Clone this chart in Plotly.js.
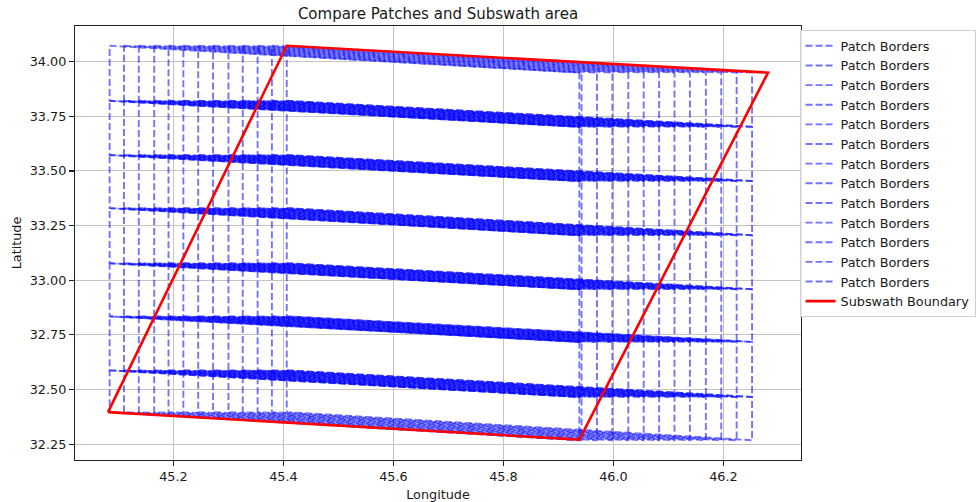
<!DOCTYPE html>
<html>
<head>
<meta charset="utf-8">
<script src="https://cdn.plot.ly/plotly-3.0.1.min.js"></script>
<style>html,body{margin:0;padding:0;background:#fff;}#chart{width:976px;height:502px;}</style>
</head>
<body>
<div id="chart"></div>
<script>
// Patch columns: left and right longitude of each of the 13 patch strips
const patchLeftLon  = [45.084, 45.110, 45.137, 45.165, 45.191, 45.218, 45.245, 45.272, 45.300, 45.326, 45.353, 45.379, 45.406];
const patchRightLon = [45.938, 45.942, 45.970, 45.998, 46.027, 46.055, 46.083, 46.111, 46.139, 46.168, 46.196, 46.224, 46.252];
// Row border latitudes at the left end and at the right end of each strip
const rowLatLeft  = [34.073, 33.821, 33.573, 33.330, 33.078, 32.835, 32.588, 32.397];
const rowLatRight = [33.950, 33.702, 33.454, 33.206, 32.959, 32.718, 32.466, 32.268];
// Subswath boundary polygon
const subswathLon = [45.081, 45.406, 46.281, 45.938, 45.081];
const subswathLat = [32.397, 34.073, 33.950, 32.271, 32.397];
// Tick values
const xTicks = [45.2, 45.4, 45.6, 45.8, 46.0, 46.2];
const yTicks = [32.25, 32.50, 32.75, 33.00, 33.25, 33.50, 33.75, 34.00];

const traces = [];
for (let i = 0; i < patchLeftLon.length; i++) {
  const xs = [], ys = [];
  const L = patchLeftLon[i], R = patchRightLon[i];
  for (let r = 0; r < rowLatLeft.length - 1; r++) {
    xs.push(L, R, R, L, L, null);
    ys.push(rowLatLeft[r], rowLatRight[r], rowLatRight[r + 1], rowLatLeft[r + 1], rowLatLeft[r], null);
  }
  traces.push({
    x: xs, y: ys, type: 'scatter', mode: 'lines', name: 'Patch Borders',
    connectgaps: false, hoverinfo: 'skip',
    line: {color: 'rgba(0,0,255,0.55)', width: 1.9, dash: '7px,3px'}
  });
}
traces.push({
  x: subswathLon, y: subswathLat, type: 'scatter', mode: 'lines', name: 'Subswath Boundary',
  line: {color: 'rgb(255,0,0)', width: 2.6}
});

const allLon = subswathLon.concat(patchLeftLon, patchRightLon);
const allLat = subswathLat.concat(rowLatLeft, rowLatRight);
const xmin = Math.min(...allLon), xmax = Math.max(...allLon);
const ymin = Math.min(...allLat), ymax = Math.max(...allLat);
const xpad = (xmax - xmin) * 0.05, ypad = (ymax - ymin) * 0.05;

const font = {family: 'DejaVu Sans, sans-serif', size: 12.8, color: '#1a1a1a'};
const layout = {
  width: 976, height: 502,
  paper_bgcolor: '#fff', plot_bgcolor: '#fff',
  margin: {l: 75, r: 175, t: 26, b: 42, autoexpand: false},
  font: font,
  showlegend: true,
  title: {text: 'Compare Patches and Subswath area', font: {family: 'DejaVu Sans, sans-serif', size: 15, color: '#1a1a1a'},
          x: 0.5, xref: 'paper', y: 1 - 14 / 502, yref: 'container', yanchor: 'middle'},
  xaxis: {
    range: [xmin - xpad, xmax + xpad], tickvals: xTicks, ticktext: xTicks.map(v => v.toFixed(1)),
    showgrid: true, gridcolor: '#c4c4c4', gridwidth: 1, zeroline: false,
    showline: true, linecolor: '#222', linewidth: 1.1, mirror: true,
    ticks: 'outside', ticklen: 5, tickwidth: 1.1, tickcolor: '#222',
    tickfont: font,
    title: {text: 'Longitude', font: font, standoff: 8}
  },
  yaxis: {
    range: [ymin - ypad, ymax + ypad], tickvals: yTicks, ticktext: yTicks.map(v => v.toFixed(2)),
    showgrid: true, gridcolor: '#c4c4c4', gridwidth: 1, zeroline: false,
    showline: true, linecolor: '#222', linewidth: 1.1, mirror: true,
    ticks: 'outside', ticklen: 5, tickwidth: 1.1, tickcolor: '#222',
    tickfont: font,
    title: {text: 'Latitude', font: font, standoff: 5}
  },
  legend: {
    x: 0.998, xanchor: 'left', y: 1 - 4 / 434, yanchor: 'top',
    bgcolor: 'rgba(255,255,255,0.9)', bordercolor: '#d0d0d0', borderwidth: 1,
    font: font
  }
};
Plotly.newPlot('chart', traces, layout, {staticPlot: true, displayModeBar: false});
</script>
</body>
</html>
